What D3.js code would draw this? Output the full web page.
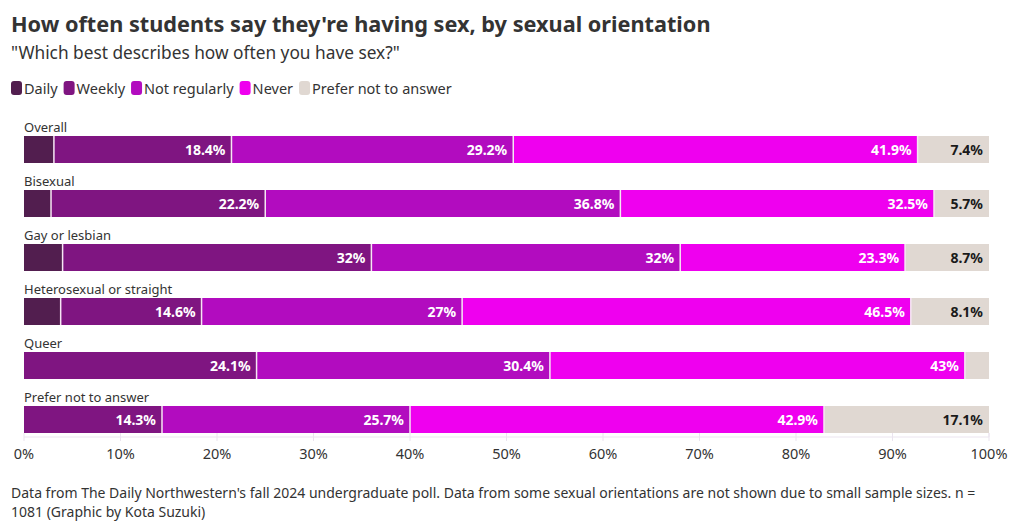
<!DOCTYPE html>
<html><head><meta charset="utf-8">
<script src="https://cdn.jsdelivr.net/npm/d3@7"></script>
<style>
body{margin:0;background:#fff;}
svg{font-family:"Noto Sans",sans-serif;}
</style></head>
<body><svg id="c" width="1020" height="530"></svg>
<script>
const categories = ["Overall","Bisexual","Gay or lesbian","Heterosexual or straight","Queer","Prefer not to answer"];
const seriesNames = ["Daily","Weekly","Not regularly","Never","Prefer not to answer"];
const daily = [3.1, 2.8, 4.0, 3.8, 0, 0];
const weekly = [18.4, 22.2, 32, 14.6, 24.1, 14.3];
const notRegularly = [29.2, 36.8, 32, 27, 30.4, 25.7];
const never = [41.9, 32.5, 23.3, 46.5, 43, 42.9];
const preferNot = [7.4, 5.7, 8.7, 8.1, 2.5, 17.1];
const showLabel = [false, true, true, true, true];
const ticks = [0,10,20,30,40,50,60,70,80,90,100];
const colors = ["#521e4f","#7f1581","#b20cbf","#ef00ef","#e0d8d2"];

const svg = d3.select("#c");
const series = [daily, weekly, notRegularly, never, preferNot];

svg.append("text").attr("x",11).attr("y",32).attr("font-size",21.7).attr("font-weight",700)
  .attr("fill","#333").text("How often students say they're having sex, by sexual orientation");
svg.append("text").attr("x",11).attr("y",59).attr("font-size",17.3).attr("fill","#333")
  .text("\"Which best describes how often you have sex?\"");

// legend
let lx = 11;
seriesNames.forEach((n,i)=>{
  svg.append("rect").attr("x",lx).attr("y",81).attr("width",11).attr("height",14).attr("rx",3).attr("fill",colors[i]);
  const t = svg.append("text").attr("x",lx+13).attr("y",93.5).attr("font-size",14.5).attr("fill","#333").text(n);
  lx += 13 + t.node().getComputedTextLength() + 6;
});

const x = d3.scaleLinear().domain([0,100]).range([24,989]);
const y = d3.scaleBand().domain(categories).range([136,460]).paddingInner(0).paddingOuter(0);
const barH = 27;

// axis
const axisG = svg.append("g").attr("transform","translate(0,437)");
axisG.append("line").attr("x1",x(0)).attr("x2",x(100)).attr("stroke","#ebe4ef");
ticks.forEach(t=>{
  axisG.append("line").attr("x1",x(t)).attr("x2",x(t)).attr("y1",-4).attr("y2",4).attr("stroke","#ebe4ef");
  axisG.append("text").attr("x",x(t)).attr("y",22).attr("text-anchor","middle").attr("font-size",14.5).attr("fill","#333").text(t+"%");
});
svg.append("line").attr("x1",x(100)).attr("x2",x(100)).attr("y1",433).attr("y2",437).attr("stroke","#ebe4ef");

categories.forEach((c,ci)=>{
  const y0 = y(c);
  svg.append("text").attr("x",24).attr("y",y0-4).attr("font-size",13).attr("fill","#333").text(c);
  let cum = 0;
  series.forEach((s,si)=>{
    const v = s[ci];
    if(v<=0) return;
    const x0 = x(cum), x1 = x(cum+v);
    cum += v;
    svg.append("rect").attr("x",x0).attr("y",y0).attr("width",Math.max(0,x1-x0)).attr("height",barH).attr("fill",colors[si]);
    if(showLabel[si] && (x1-x0) > 40){
      svg.append("text").attr("x",x1-6).attr("y",y0+barH/2+5).attr("text-anchor","end")
        .attr("font-size",14).attr("font-weight",700).attr("fill",si===4?"#1a1a1a":"#fff")
        .text(v+"%");
    }
  });
  // separators
  cum = 0;
  series.forEach((s,si)=>{
    const v = s[ci];
    if(v<=0){return;}
    if(cum>0){
      svg.append("line").attr("x1",x(cum)).attr("x2",x(cum)).attr("y1",y0).attr("y2",y0+barH)
        .attr("stroke","#f6e6f4").attr("stroke-width",1.5);
    }
    cum += v;
  });
});

svg.append("text").attr("x",11).attr("y",498).attr("font-size",14).attr("fill","#333")
  .text("Data from The Daily Northwestern's fall 2024 undergraduate poll. Data from some sexual orientations are not shown due to small sample sizes. n =");
svg.append("text").attr("x",11).attr("y",517).attr("font-size",14).attr("fill","#333")
  .text("1081 (Graphic by Kota Suzuki)");
</script></body></html>
